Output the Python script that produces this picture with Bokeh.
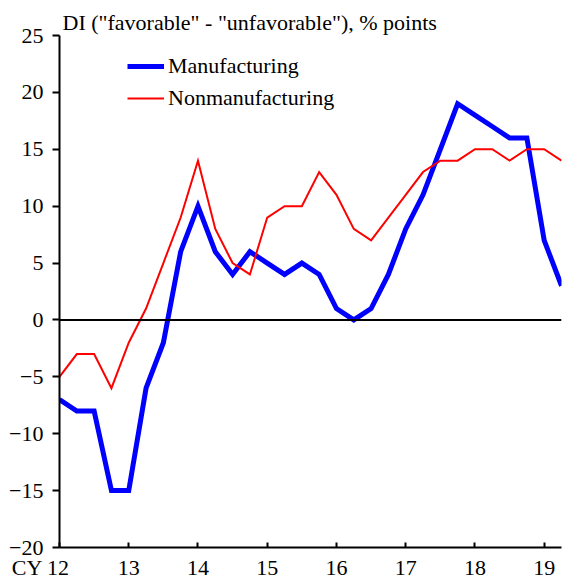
from bokeh.plotting import figure
from bokeh.models import FixedTicker, Span, Legend, LegendItem, Range1d, Title
from bokeh.embed import file_html
from bokeh.resources import INLINE

# Quarterly DI, CY2012 Q1 .. CY2019 Q3
manufacturing = [-7, -8, -8, -15, -15, -6, -2, 6, 10, 6, 4, 6, 5, 4, 5, 4,
                 1, 0, 1, 4, 8, 11, 15, 19, 18, 17, 16, 16, 7, 3]
nonmanufacturing = [-5, -3, -3, -6, -2, 1, 5, 9, 14, 8, 5, 4, 9, 10, 10, 13,
                    11, 8, 7, 9, 11, 13, 14, 14, 15, 15, 14, 15, 15, 14]
year_ticks = [12, 13, 14, 15, 16, 17, 18, 19]
# first label carries the "CY" prefix; trailing non-collapsing spaces keep "12" centred on its tick
year_labels = ["CY 12\u2003\u2002\u2009", "13", "14", "15", "16", "17", "18", "19"]
y_ticks = [-20, -15, -10, -5, 0, 5, 10, 15, 20, 25]
title_text = 'DI ("favorable" - "unfavorable"), % points'

x = [12 + i * 0.25 for i in range(len(manufacturing))]

FONT = "Liberation Serif"
FS = "22px"

p = figure(frame_width=502, frame_height=512, output_backend="svg",
           toolbar_location=None, x_range=Range1d(12, 19.25),
           y_range=Range1d(-20, 25), min_border_left=59, min_border_top=35,
           min_border_right=4, min_border_bottom=34)
p.title = Title(text=title_text, align="left", offset=3, standoff=2,
                text_font=FONT, text_font_size=FS, text_font_style="normal",
                text_color="black")
p.outline_line_color = None
p.xgrid.visible = False
p.ygrid.visible = False
p.background_fill_color = "white"

p.add_layout(Span(location=0, dimension="width", line_color="black", line_width=2))

r_m = p.line(x, manufacturing, line_color="#0000ff", line_width=5, line_join="miter")
r_n = p.line(x, nonmanufacturing, line_color="#ff0000", line_width=2, line_join="miter")

for ax in (p.xaxis[0], p.yaxis[0]):
    ax.axis_line_color = "black"
    ax.axis_line_width = 2
    ax.major_tick_line_color = "black"
    ax.major_tick_line_width = 2
    ax.minor_tick_line_color = None
    ax.major_label_text_font = FONT
    ax.major_label_text_font_size = FS
    ax.major_label_text_color = "black"

p.xaxis.ticker = FixedTicker(ticks=year_ticks)
p.xaxis.major_label_overrides = {t: l for t, l in zip(year_ticks, year_labels)}
p.xaxis.major_tick_in = 5
p.xaxis.major_tick_out = 0
p.xaxis.major_label_standoff = 7

p.yaxis.ticker = FixedTicker(ticks=y_ticks)
p.yaxis.major_tick_in = 0
p.yaxis.major_tick_out = 7
p.yaxis.major_label_standoff = 9

legend = Legend(items=[LegendItem(label="Manufacturing", renderers=[r_m]),
                       LegendItem(label="Nonmanufacturing", renderers=[r_n])],
                location=(68, 436), padding=0, margin=0,
                border_line_alpha=0, background_fill_alpha=0,
                glyph_width=37, glyph_height=26, label_height=26, spacing=6,
                label_standoff=4, label_text_font=FONT,
                label_text_font_size=FS, label_text_color="black")
p.add_layout(legend)

open("out.html", "w").write(file_html(p, INLINE))
